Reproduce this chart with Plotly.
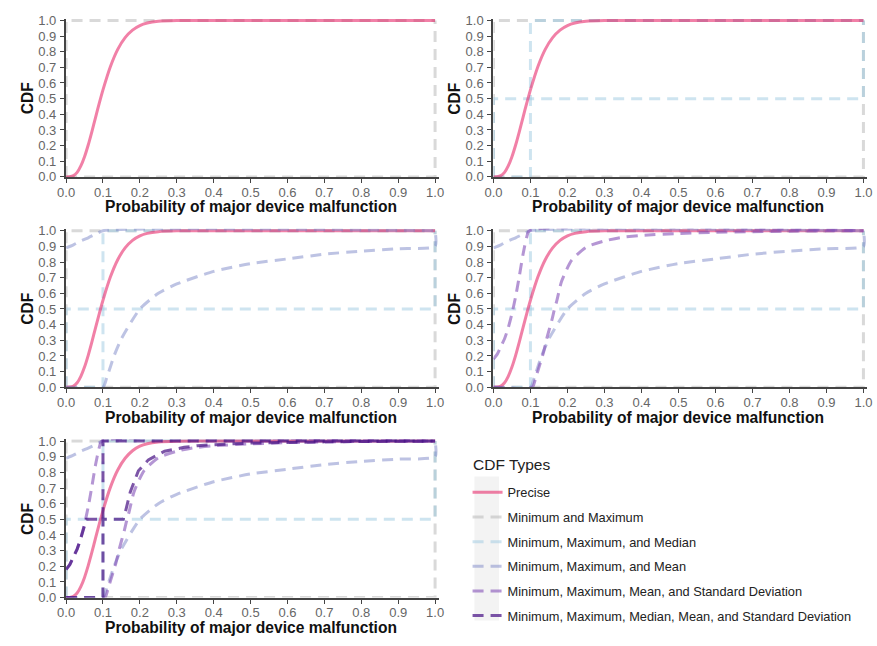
import plotly.graph_objects as go

# ---------------- data ----------------
tick_vals = [0.0, 0.1, 0.2, 0.3, 0.4, 0.5, 0.6, 0.7, 0.8, 0.9, 1.0]

cdf_types = [
    "Precise",
    "Minimum and Maximum",
    "Minimum, Maximum, and Median",
    "Minimum, Maximum, and Mean",
    "Minimum, Maximum, Mean, and Standard Deviation",
    "Minimum, Maximum, Median, Mean, and Standard Deviation",
]

precise_x = [0.0, 0.01, 0.02, 0.03, 0.04, 0.05, 0.06, 0.07, 0.08, 0.09, 0.10,
             0.12, 0.14, 0.16, 0.18, 0.20, 0.22, 0.25, 0.30, 0.35, 1.0]
precise_y = [0.0, 0.001, 0.008, 0.029, 0.07, 0.129, 0.204, 0.29, 0.381, 0.471, 0.556,
             0.704, 0.815, 0.89, 0.938, 0.967, 0.983, 0.994, 0.999, 1.0, 1.0]

minmax_upper_x = [0.0, 0.0, 1.0]
minmax_upper_y = [0.0, 1.0, 1.0]
minmax_lower_x = [0.0, 1.0, 1.0]
minmax_lower_y = [0.0, 0.0, 1.0]

median_upper_x = [0.0, 0.0, 0.1, 0.1, 1.0]
median_upper_y = [0.0, 0.5, 0.5, 1.0, 1.0]
median_lower_x = [0.0, 0.1, 0.1, 1.0, 1.0]
median_lower_y = [0.0, 0.0, 0.5, 0.5, 1.0]

mean_upper_x = [0.0, 0.02, 0.04, 0.06, 0.08, 0.1, 1.0]
mean_upper_y = [0.89, 0.91, 0.935, 0.955, 0.978, 1.0, 1.0]
mean_lower_x = [0.0, 0.1, 0.11, 0.12, 0.13, 0.15, 0.2, 0.25, 0.3, 0.4, 0.5,
                0.6, 0.7, 0.8, 0.9, 1.0, 1.0]
mean_lower_y = [0.0, 0.0, 0.06, 0.13, 0.2, 0.31, 0.5, 0.6, 0.66, 0.74, 0.79,
                0.82, 0.85, 0.87, 0.885, 0.9, 1.0]

meansd_upper_x = [0.0, 0.01, 0.02, 0.03, 0.04, 0.05, 0.06, 0.07, 0.08, 0.09, 0.097, 1.0]
meansd_upper_y = [0.18, 0.21, 0.26, 0.31, 0.38, 0.47, 0.58, 0.71, 0.85, 0.96, 1.0, 1.0]
meansd_lower_x = [0.0, 0.105, 0.113, 0.122, 0.135, 0.144, 0.158, 0.165, 0.171, 0.184,
                  0.211, 0.25, 0.3, 0.343, 0.4, 0.5, 0.6, 0.7, 0.8, 0.9, 1.0]
meansd_lower_y = [0.0, 0.0, 0.05, 0.12, 0.22, 0.31, 0.43, 0.5, 0.55, 0.675,
                  0.81, 0.894, 0.935, 0.956, 0.97, 0.982, 0.99, 0.994, 0.997, 0.999, 1.0]

full_upper_x = [0.0, 0.01, 0.02, 0.03, 0.04, 0.05, 0.055, 0.1, 0.1, 1.0]
full_upper_y = [0.18, 0.21, 0.26, 0.31, 0.38, 0.47, 0.5, 0.5, 1.0, 1.0]
full_lower_x = [0.0, 0.1, 0.1, 0.155, 0.161, 0.174, 0.196, 0.223, 0.267, 0.32,
                0.356, 0.4, 0.5, 0.6, 0.7, 0.8, 0.9, 1.0]
full_lower_y = [0.0, 0.0, 0.5, 0.5, 0.55, 0.675, 0.81, 0.88, 0.935, 0.96,
                0.97, 0.977, 0.987, 0.992, 0.995, 0.997, 0.999, 1.0]

curves = {
    cdf_types[0]: [(precise_x, precise_y)],
    cdf_types[1]: [(minmax_upper_x, minmax_upper_y), (minmax_lower_x, minmax_lower_y)],
    cdf_types[2]: [(median_upper_x, median_upper_y), (median_lower_x, median_lower_y)],
    cdf_types[3]: [(mean_upper_x, mean_upper_y), (mean_lower_x, mean_lower_y)],
    cdf_types[4]: [(meansd_upper_x, meansd_upper_y), (meansd_lower_x, meansd_lower_y)],
    cdf_types[5]: [(full_upper_x, full_upper_y), (full_lower_x, full_lower_y)],
}

# ---------------- styling ----------------
FONT = "Liberation Sans, Arial, Helvetica, sans-serif"
DASH = "11px,7px"
styles = {
    cdf_types[0]: dict(color="#e6195f", opacity=0.55, dash="solid", shape="spline"),
    cdf_types[1]: dict(color="#b4b4b4", opacity=0.5, dash=DASH, shape="linear"),
    cdf_types[2]: dict(color="#9ecae1", opacity=0.5, dash=DASH, shape="linear"),
    cdf_types[3]: dict(color="#7d87c8", opacity=0.5, dash=DASH, shape="spline"),
    cdf_types[4]: dict(color="#8450b8", opacity=0.6, dash=DASH, shape="spline"),
    cdf_types[5]: dict(color="#4a1486", opacity=0.72, dash=DASH, shape="linear"),
}

W, H = 877, 646
# pixel geometry of the panels: (x of value 0, x of value 1, y of value 0, y of value 1)
panels_px = [
    (58.0, 433.0, 174.7, 14.7),
    (492.3, 868.3, 174.7, 14.7),
    (58.0, 433.0, 389.7, 229.7),
    (492.3, 868.3, 389.7, 229.7),
    (58.0, 433.0, 604.7, 444.7),
]
XMAX, YMAX = 1.01, 1.012
draw_order = [1, 2, 0, 3, 4, 5]

fig = go.Figure()
layout_axes = {}
annotations = []
for p, (x0, x1, y0, y1) in enumerate(panels_px):
    n_types = p + 2
    xs = "" if p == 0 else str(p + 1)
    xref, yref = "x" + xs, "y" + xs
    xd = [x0 / W, (x0 + (x1 - x0) * XMAX) / W]
    yd = [1 - y0 / H, 1 - (y0 - (y0 - y1) * YMAX) / H]
    common = dict(
        showgrid=False, zeroline=False, showline=True, linecolor="#444", linewidth=2.4,
        ticks="outside", ticklen=4, tickwidth=1.2, tickcolor="#444",
        tickvals=tick_vals, tickformat=".1f",
        tickfont=dict(family=FONT, size=13, color="#666"),
        fixedrange=True, layer="above traces",
    )
    layout_axes["xaxis" + xs] = dict(common, domain=xd, range=[0, XMAX], anchor=yref,
                                     ticklabelstandoff=-2)
    layout_axes["yaxis" + xs] = dict(common, domain=yd, range=[0, YMAX], anchor=xref,
                                     ticklabelstandoff=1)

    for ti in draw_order:
        if ti >= n_types:
            continue
        name = cdf_types[ti]
        st = styles[name]
        for k, (cx, cy) in enumerate(curves[name]):
            fig.add_trace(go.Scatter(
                x=cx, y=cy, mode="lines", name=name,
                xaxis=xref, yaxis=yref,
                line=dict(color=st["color"], width=3, dash=st["dash"],
                          shape=st["shape"], smoothing=0.6 if st["shape"] == "spline" else None),
                opacity=st["opacity"],
                legendgroup=name, legendrank=ti,
                showlegend=(p == 4 and k == 0),
                hoverinfo="skip",
            ))

    # axis titles
    annotations.append(dict(
        text="<b>Probability of major device malfunction</b>", xref="paper", yref="paper",
        x=(x0 + x1) / 2 / W, y=1 - (y0 + 30.5) / H, showarrow=False,
        font=dict(family=FONT, size=15.6, color="#111"), xanchor="center", yanchor="middle"))
    annotations.append(dict(
        text="<b>CDF</b>", xref="paper", yref="paper", textangle=-90,
        x=(x0 - 39) / W, y=1 - (y0 + y1) / 2 / H, showarrow=False,
        font=dict(family=FONT, size=15.6, color="#111"), xanchor="center", yanchor="middle"))

# legend title
annotations.append(dict(
    text="CDF Types", xref="paper", yref="paper", x=470 / W, y=1 - 469 / H,
    xanchor="left", yanchor="middle", showarrow=False,
    font=dict(family=FONT, size=15.5, color="#222")))

fig.update_layout(
    width=W, height=H,
    margin=dict(l=0, r=0, t=0, b=0),
    paper_bgcolor="white", plot_bgcolor="white",
    font=dict(family=FONT),
    showlegend=True,
    legend=dict(
        font=dict(family=FONT, size=12.8, color="#222"),
        x=466 / W, y=1 - 482 / H, xanchor="left", yanchor="top",
        tracegroupgap=5, itemwidth=30, bgcolor="rgba(0,0,0,0)",
        traceorder="grouped",
    ),
    shapes=[dict(type="rect", xref="paper", yref="paper", layer="below",
                 x0=473 / W, x1=498 / W, y0=1 - 628 / H, y1=1 - 481 / H,
                 fillcolor="#f3f3f3", line=dict(width=0))],
    annotations=annotations,
    **layout_axes,
)

fig.write_html("out.html")
